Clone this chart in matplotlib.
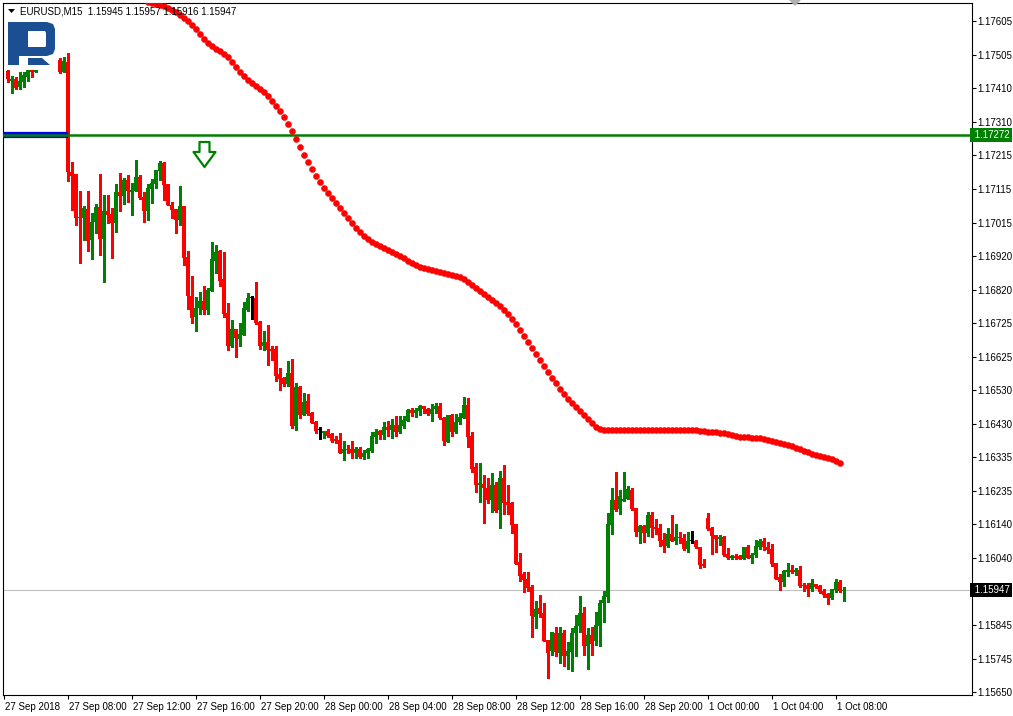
import matplotlib
matplotlib.use("Agg")
import matplotlib.pyplot as plt
import matplotlib.patches as mpatches
import matplotlib.transforms as mtransforms
from matplotlib.path import Path

plt.rcParams['font.family'] = ['Liberation Sans', 'DejaVu Sans']

symbol = "EURUSD,M15"
header_ohlc = "1.15945 1.15957 1.15916 1.15947"

# bar index 0 = 27 Sep 04:00 (M15 bars); bars 9-13 sit behind the logo
bars = list(range(1, 9)) + list(range(14, 211))

opens = [1.17459, 1.17430, 1.17436, 1.17413, 1.17427, 1.17442, 1.17462, 1.17456,
         1.17491, 1.17456, 1.17485, 1.17165, 1.17159, 1.17034, 1.17031, 1.17057, 1.16967, 1.17019,
         1.17063, 1.16970, 1.17051, 1.17042, 1.17016, 1.17107, 1.17095, 1.17142, 1.17107, 1.17110,
         1.17150, 1.17092, 1.17051, 1.17115, 1.17130, 1.17168, 1.17191, 1.17130, 1.17069, 1.17057,
         1.17025, 1.17066, 1.16917, 1.16804, 1.16743, 1.16769, 1.16789, 1.16763, 1.16818, 1.16905,
         1.16935, 1.16853, 1.16754, 1.16658, 1.16707, 1.16678, 1.16690, 1.16763, 1.16798, 1.16798,
         1.16728, 1.16658, 1.16669, 1.16649, 1.16649, 1.16576, 1.16564, 1.16547, 1.16579, 1.16425,
         1.16538, 1.16457, 1.16498, 1.16463, 1.16436, 1.16413, 1.16404, 1.16410, 1.16401, 1.16387,
         1.16384, 1.16346, 1.16358, 1.16358, 1.16346, 1.16358, 1.16335, 1.16346, 1.16352, 1.16393,
         1.16410, 1.16399, 1.16422, 1.16413, 1.16428, 1.16407, 1.16425, 1.16439, 1.16471, 1.16463,
         1.16469, 1.16483, 1.16474, 1.16460, 1.16474, 1.16483, 1.16448, 1.16378, 1.16457, 1.16407,
         1.16436, 1.16448, 1.16486, 1.16396, 1.16305, 1.16253, 1.16256, 1.16244, 1.16209, 1.16253,
         1.16180, 1.16273, 1.16203, 1.16200, 1.16139, 1.16029, 1.15994, 1.15979, 1.15956, 1.15868,
         1.15894, 1.15880, 1.15801, 1.15769, 1.15822, 1.15763, 1.15822, 1.15754, 1.15766, 1.15822,
         1.15842, 1.15880, 1.15784, 1.15816, 1.15798, 1.15842, 1.15909, 1.15926, 1.16136, 1.16209,
         1.16183, 1.16206, 1.16212, 1.16238, 1.16186, 1.16116, 1.16133, 1.16113, 1.16165, 1.16130,
         1.16127, 1.16093, 1.16075, 1.16110, 1.16090, 1.16101, 1.16098, 1.16066, 1.16090, 1.16090,
         1.16072, 1.16023, 1.16157, 1.16127, 1.16107, 1.16095, 1.16101, 1.16052, 1.16040, 1.16046,
         1.16046, 1.16037, 1.16072, 1.16040, 1.16049, 1.16072, 1.16090, 1.16072, 1.16066, 1.16026,
         1.15985, 1.15970, 1.15999, 1.16005, 1.15999, 1.16005, 1.15962, 1.15962, 1.15950, 1.15964,
         1.15959, 1.15944, 1.15935, 1.15924, 1.15947, 1.15970, 1.15945]

highs = [1.17462, 1.17445, 1.17442, 1.17456, 1.17456, 1.17462, 1.17462, 1.17462,
         1.17497, 1.17500, 1.17512, 1.17194, 1.17159, 1.17110, 1.17066, 1.17110, 1.17045, 1.17072,
         1.17159, 1.17098, 1.17098, 1.17060, 1.17130, 1.17162, 1.17147, 1.17156, 1.17133, 1.17200,
         1.17156, 1.17107, 1.17130, 1.17145, 1.17147, 1.17197, 1.17194, 1.17130, 1.17078, 1.17057,
         1.17124, 1.17066, 1.16935, 1.16862, 1.16801, 1.16815, 1.16833, 1.16827, 1.16961, 1.16952,
         1.16938, 1.16932, 1.16783, 1.16734, 1.16707, 1.16725, 1.16786, 1.16812, 1.16804, 1.16844,
         1.16731, 1.16702, 1.16719, 1.16658, 1.16658, 1.16594, 1.16567, 1.16614, 1.16620, 1.16550,
         1.16541, 1.16521, 1.16518, 1.16466, 1.16439, 1.16422, 1.16410, 1.16416, 1.16404, 1.16396,
         1.16404, 1.16381, 1.16369, 1.16381, 1.16364, 1.16364, 1.16355, 1.16361, 1.16407, 1.16416,
         1.16413, 1.16436, 1.16439, 1.16445, 1.16454, 1.16454, 1.16454, 1.16474, 1.16477, 1.16477,
         1.16486, 1.16483, 1.16477, 1.16489, 1.16492, 1.16492, 1.16451, 1.16457, 1.16460, 1.16460,
         1.16463, 1.16509, 1.16506, 1.16407, 1.16317, 1.16317, 1.16282, 1.16273, 1.16288, 1.16262,
         1.16294, 1.16311, 1.16253, 1.16203, 1.16139, 1.16055, 1.16000, 1.16000, 1.15962, 1.15915,
         1.15932, 1.15909, 1.15801, 1.15825, 1.15839, 1.15839, 1.15830, 1.15796, 1.15836, 1.15874,
         1.15929, 1.15897, 1.15836, 1.15839, 1.15883, 1.15918, 1.15944, 1.16171, 1.16244, 1.16291,
         1.16238, 1.16291, 1.16250, 1.16244, 1.16186, 1.16136, 1.16136, 1.16174, 1.16174, 1.16154,
         1.16139, 1.16113, 1.16127, 1.16165, 1.16139, 1.16116, 1.16110, 1.16116, 1.16119, 1.16093,
         1.16072, 1.16037, 1.16171, 1.16130, 1.16107, 1.16107, 1.16104, 1.16069, 1.16049, 1.16052,
         1.16049, 1.16072, 1.16078, 1.16055, 1.16093, 1.16095, 1.16098, 1.16087, 1.16081, 1.16026,
         1.15994, 1.16005, 1.16026, 1.16020, 1.16011, 1.16017, 1.15967, 1.15967, 1.15979, 1.15964,
         1.15962, 1.15950, 1.15938, 1.15950, 1.15979, 1.15976, 1.15957]

lows = [1.17427, 1.17395, 1.17407, 1.17407, 1.17413, 1.17430, 1.17442, 1.17456,
        1.17453, 1.17456, 1.17139, 1.17054, 1.17010, 1.16900, 1.16967, 1.16935, 1.16911, 1.16987,
        1.16923, 1.16844, 1.17016, 1.16914, 1.16990, 1.17051, 1.17072, 1.17078, 1.17040, 1.17110,
        1.17086, 1.17019, 1.17025, 1.17075, 1.17118, 1.17142, 1.17083, 1.17069, 1.17031, 1.16987,
        1.17010, 1.16894, 1.16766, 1.16725, 1.16702, 1.16751, 1.16751, 1.16751, 1.16818, 1.16871,
        1.16833, 1.16743, 1.16646, 1.16655, 1.16626, 1.16658, 1.16690, 1.16760, 1.16737, 1.16722,
        1.16649, 1.16646, 1.16603, 1.16617, 1.16556, 1.16530, 1.16541, 1.16541, 1.16419, 1.16413,
        1.16448, 1.16457, 1.16457, 1.16434, 1.16404, 1.16387, 1.16390, 1.16393, 1.16378, 1.16375,
        1.16346, 1.16326, 1.16346, 1.16332, 1.16332, 1.16332, 1.16329, 1.16332, 1.16349, 1.16375,
        1.16387, 1.16387, 1.16396, 1.16390, 1.16396, 1.16404, 1.16419, 1.16439, 1.16454, 1.16451,
        1.16457, 1.16463, 1.16457, 1.16439, 1.16463, 1.16445, 1.16369, 1.16378, 1.16396, 1.16404,
        1.16431, 1.16448, 1.16364, 1.16291, 1.16233, 1.16203, 1.16142, 1.16200, 1.16174, 1.16174,
        1.16127, 1.16168, 1.16168, 1.16113, 1.16023, 1.15973, 1.15941, 1.15944, 1.15810, 1.15836,
        1.15868, 1.15798, 1.15691, 1.15757, 1.15754, 1.15734, 1.15725, 1.15716, 1.15711, 1.15754,
        1.15825, 1.15757, 1.15717, 1.15757, 1.15787, 1.15784, 1.15854, 1.15912, 1.16110, 1.16177,
        1.16168, 1.16206, 1.16212, 1.16180, 1.16104, 1.16084, 1.16087, 1.16104, 1.16101, 1.16110,
        1.16075, 1.16058, 1.16072, 1.16090, 1.16081, 1.16084, 1.16064, 1.16058, 1.16084, 1.16069,
        1.16011, 1.16014, 1.16122, 1.16052, 1.16058, 1.16078, 1.16046, 1.16037, 1.16037, 1.16037,
        1.16037, 1.16037, 1.16040, 1.16026, 1.16043, 1.16066, 1.16064, 1.16055, 1.16017, 1.15979,
        1.15947, 1.15959, 1.15988, 1.15997, 1.15991, 1.15956, 1.15944, 1.15930, 1.15944, 1.15953,
        1.15938, 1.15927, 1.15906, 1.15921, 1.15941, 1.15941, 1.15916]

closes = [1.17436, 1.17436, 1.17410, 1.17430, 1.17448, 1.17462, 1.17456, 1.17462,
          1.17456, 1.17488, 1.17165, 1.17153, 1.17031, 1.17031, 1.17060, 1.16964, 1.17019, 1.17063,
          1.16970, 1.17051, 1.17040, 1.17016, 1.17107, 1.17095, 1.17142, 1.17110, 1.17112, 1.17150,
          1.17089, 1.17051, 1.17118, 1.17133, 1.17171, 1.17191, 1.17127, 1.17069, 1.17054, 1.17025,
          1.17066, 1.16914, 1.16804, 1.16740, 1.16769, 1.16789, 1.16763, 1.16821, 1.16911, 1.16932,
          1.16847, 1.16751, 1.16658, 1.16707, 1.16681, 1.16693, 1.16769, 1.16798, 1.16798, 1.16725,
          1.16658, 1.16669, 1.16646, 1.16643, 1.16570, 1.16561, 1.16547, 1.16579, 1.16425, 1.16538,
          1.16457, 1.16495, 1.16460, 1.16434, 1.16410, 1.16413, 1.16410, 1.16396, 1.16381, 1.16381,
          1.16346, 1.16358, 1.16355, 1.16346, 1.16358, 1.16335, 1.16346, 1.16358, 1.16396, 1.16407,
          1.16399, 1.16422, 1.16413, 1.16428, 1.16407, 1.16428, 1.16442, 1.16471, 1.16463, 1.16471,
          1.16483, 1.16474, 1.16460, 1.16474, 1.16483, 1.16448, 1.16381, 1.16457, 1.16407, 1.16436,
          1.16451, 1.16486, 1.16393, 1.16300, 1.16253, 1.16259, 1.16244, 1.16209, 1.16253, 1.16177,
          1.16273, 1.16200, 1.16195, 1.16136, 1.16023, 1.15988, 1.15976, 1.15953, 1.15871, 1.15891,
          1.15877, 1.15798, 1.15763, 1.15825, 1.15766, 1.15822, 1.15754, 1.15769, 1.15822, 1.15842,
          1.15880, 1.15784, 1.15816, 1.15790, 1.15845, 1.15909, 1.15929, 1.16139, 1.16209, 1.16180,
          1.16221, 1.16212, 1.16241, 1.16183, 1.16116, 1.16133, 1.16113, 1.16165, 1.16127, 1.16124,
          1.16090, 1.16075, 1.16110, 1.16090, 1.16101, 1.16098, 1.16066, 1.16090, 1.16090, 1.16072,
          1.16020, 1.16017, 1.16124, 1.16104, 1.16095, 1.16101, 1.16049, 1.16040, 1.16046, 1.16040,
          1.16037, 1.16072, 1.16040, 1.16049, 1.16075, 1.16090, 1.16072, 1.16064, 1.16023, 1.15979,
          1.15970, 1.16002, 1.16005, 1.15999, 1.16005, 1.15959, 1.15959, 1.15950, 1.15967, 1.15956,
          1.15941, 1.15932, 1.15924, 1.15950, 1.15970, 1.15944, 1.15947]

# red dotted moving average, one value per bar starting at bar 36
ma_first = 36
ma = [1.17660, 1.17657, 1.17654, 1.17651, 1.17649, 1.17643, 1.17637, 1.17631, 1.17622, 1.17614,
      1.17605, 1.17593, 1.17581, 1.17567, 1.17552, 1.17541, 1.17532, 1.17523, 1.17517, 1.17509,
      1.17500, 1.17485, 1.17471, 1.17456, 1.17445, 1.17433, 1.17424, 1.17415, 1.17407, 1.17398,
      1.17386, 1.17372, 1.17357, 1.17343, 1.17325, 1.17305, 1.17284, 1.17261, 1.17238, 1.17214,
      1.17194, 1.17174, 1.17153, 1.17136, 1.17118, 1.17104, 1.17089, 1.17075, 1.17060, 1.17045,
      1.17031, 1.17016, 1.17002, 1.16990, 1.16978, 1.16970, 1.16961, 1.16955, 1.16949, 1.16943,
      1.16938, 1.16932, 1.16926, 1.16920, 1.16914, 1.16905, 1.16900, 1.16894, 1.16888, 1.16885,
      1.16882, 1.16879, 1.16876, 1.16873, 1.16871, 1.16868, 1.16865, 1.16862, 1.16859, 1.16853,
      1.16844, 1.16836, 1.16827, 1.16818, 1.16809, 1.16801, 1.16792, 1.16783, 1.16774, 1.16763,
      1.16751, 1.16737, 1.16722, 1.16705, 1.16687, 1.16670, 1.16652, 1.16635, 1.16617, 1.16600,
      1.16582, 1.16565, 1.16550, 1.16533, 1.16518, 1.16504, 1.16492, 1.16480, 1.16469, 1.16457,
      1.16445, 1.16434, 1.16422, 1.16416, 1.16413, 1.16413, 1.16413, 1.16413, 1.16413, 1.16413,
      1.16413, 1.16413, 1.16413, 1.16413, 1.16413, 1.16413, 1.16413, 1.16413, 1.16413, 1.16413,
      1.16413, 1.16413, 1.16413, 1.16413, 1.16413, 1.16413, 1.16413, 1.16413, 1.16410, 1.16410,
      1.16407, 1.16407, 1.16407, 1.16404, 1.16404, 1.16401, 1.16399, 1.16396, 1.16393, 1.16393,
      1.16393, 1.16390, 1.16390, 1.16390, 1.16387, 1.16384, 1.16381, 1.16378, 1.16375, 1.16372,
      1.16369, 1.16367, 1.16361, 1.16358, 1.16352, 1.16349, 1.16343, 1.16340, 1.16337, 1.16335,
      1.16332, 1.16329, 1.16323, 1.16317]

level_price = 1.17272
last_price = 1.15947
arrow_bar, arrow_price = 50, 1.17216

ytick_vals = [1.17605, 1.17505, 1.17410, 1.17310, 1.17215, 1.17115, 1.17015, 1.16920, 1.16820,
              1.16725, 1.16625, 1.16530, 1.16430, 1.16335, 1.16235, 1.16140, 1.16040, 1.15845,
              1.15745, 1.15650]
xtick_bars = [0, 16, 32, 48, 64, 80, 96, 112, 128, 144, 160, 176, 192, 208]
xtick_labels = ["27 Sep 2018", "27 Sep 08:00", "27 Sep 12:00", "27 Sep 16:00", "27 Sep 20:00",
                "28 Sep 00:00", "28 Sep 04:00", "28 Sep 08:00", "28 Sep 12:00", "28 Sep 16:00",
                "28 Sep 20:00", "1 Oct 00:00", "1 Oct 04:00", "1 Oct 08:00"]

W, H = 1013, 716
fig = plt.figure(figsize=(W / 100, H / 100), dpi=100)
ax = fig.add_axes([3 / W, (H - 695) / H, (972 - 3) / W, (695 - 3) / H])
ax.set_xlim(-0.25, 242)
ax.set_ylim(1.15641, 1.17657)
px = (1.17657 - 1.15641) / 692  # price per pixel

cols, bots, hts = [], [], []
for o, c in zip(opens, closes):
    if o == c:
        cols.append("black")
    elif c > o:
        cols.append("#008000")
    else:
        cols.append("#FF0000")
    bots.append(min(o, c))
    hts.append(max(abs(c - o), px))

ax.vlines(bars, lows, highs, colors=cols, lw=0.8, antialiased=False, zorder=2)
ax.bar(bars, hts, bottom=bots, width=0.82, color=cols, linewidth=0, antialiased=False, zorder=3)

# horizontal level with blue marker band on the left
ax.hlines(level_price, -0.25, 15.9, colors="#0000FF", lw=4.5, zorder=4)
ax.hlines(level_price, -0.25, 15.9, colors="#7F7FFF", lw=0.8, linestyles=(0, (1, 1.5)), zorder=4)
ax.axhline(level_price, color="#008000", lw=1.8, zorder=5)
ax.axhline(last_price, color="#C0C0C0", lw=0.8, zorder=1)

ma_bars = list(range(ma_first, ma_first + len(ma)))
ax.plot(ma_bars, ma, "o", ms=4.4, color="#FF0000", mec="#FF0000", mew=0.3, zorder=6)

# hollow down arrow
arrow_path = Path([(-5, 12.5), (5, 12.5), (5, 2.5), (11, 2.5), (0, -12.5), (-11, 2.5),
                   (-5, 2.5), (-5, 12.5)], closed=True)
ax.plot([arrow_bar], [arrow_price], marker=arrow_path, ms=18, mfc="white", mec="#008000",
        mew=1.6, zorder=7)

for s in ax.spines.values():
    s.set_color("black")
    s.set_linewidth(0.8)

ax.yaxis.tick_right()
ax.set_yticks(ytick_vals, ["%.5f" % v for v in ytick_vals])
ax.tick_params(axis="y", direction="out", length=3, width=0.8, labelsize=7, pad=1)
ax.set_xticks(xtick_bars, xtick_labels)
ax.tick_params(axis="x", direction="out", length=3, width=0.8, labelsize=7, pad=2)
shift = mtransforms.ScaledTranslation(0.6 / 72, 0, fig.dpi_scale_trans)
for lab in ax.get_xticklabels():
    lab.set_horizontalalignment("left")
    lab.set_transform(lab.get_transform() + shift)

yx = mtransforms.blended_transform_factory(ax.transAxes, ax.transData)
ax.text(1.0, level_price, " 1.17272", transform=yx, ha="left", va="center", fontsize=7,
        color="white", bbox=dict(boxstyle="square,pad=0.2", fc="#008000", ec="none"), zorder=10,
        clip_on=False)
ax.text(1.0, last_price, " 1.15947", transform=yx, ha="left", va="center", fontsize=7,
        color="white", bbox=dict(boxstyle="square,pad=0.2", fc="black", ec="none"), zorder=10,
        clip_on=False)

# header
fig.text(20 / W, 1 - 12 / H, symbol + "  " + header_ohlc, fontsize=7, va="center", ha="left")


def fpoly(pts, color):
    fig.patches.append(mpatches.Polygon([(x / W, 1 - y / H) for x, y in pts], closed=True,
                                        transform=fig.transFigure, fc=color, ec="none",
                                        zorder=20))


fpoly([(8, 9), (15, 9), (11.5, 13)], "black")
fpoly([(789, 0), (801, 0), (795, 6)], "#B0B0B0")

# logo
logo = "#1B4F93"
fpoly([(8, 22), (47, 22), (53, 24), (55, 29), (55, 49), (53, 54), (47, 56), (19, 56),
       (19, 65), (8, 65)], logo)
fpoly([(28, 31), (45, 31), (46, 33), (46, 46), (45, 47), (28, 47)], "white")
fpoly([(28, 58), (42, 58), (50, 65), (28, 65)], logo)

fig.savefig("out.png", dpi=100)
